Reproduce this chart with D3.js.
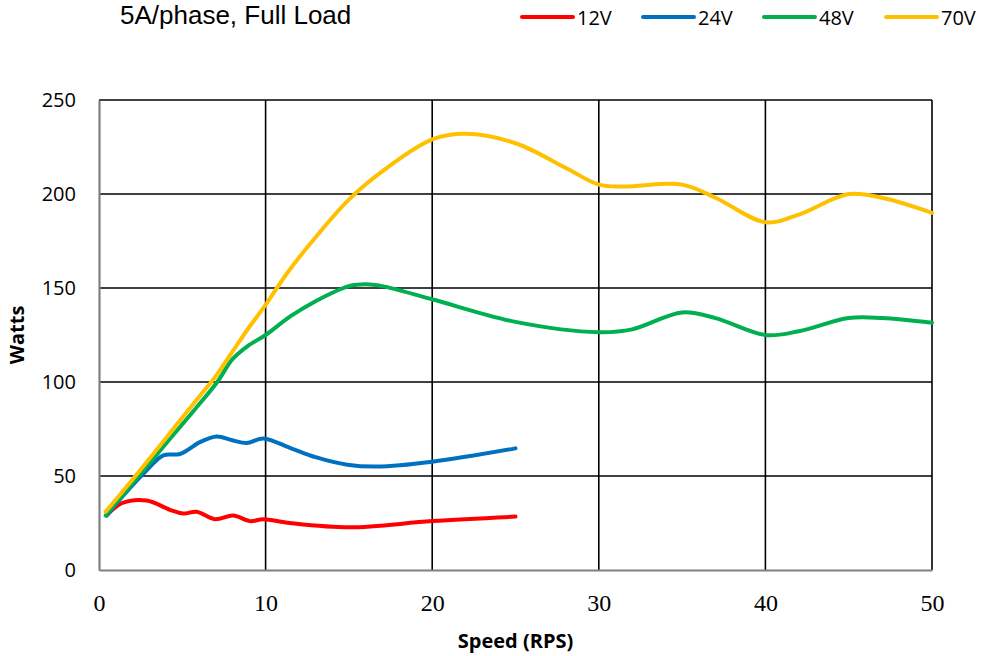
<!DOCTYPE html>
<html>
<head>
<meta charset="utf-8">
<script src="https://cdn.jsdelivr.net/npm/d3@7"></script>
<style>
  html, body { margin: 0; padding: 0; background: #fff; }
  svg { display: block; }
</style>
</head>
<body>
<svg id="chart" width="983" height="656"></svg>
<script>
// Power vs speed, 5A/phase full load, for four supply voltages
const seriesNames = ["12V", "24V", "48V", "70V"];
const seriesColors = ["#ff0000", "#0070c0", "#00b050", "#ffc000"];

const speed12 = [0.46, 1.36, 2.86, 4.26, 5.06, 5.86, 6.96, 8.06, 9.06, 9.86, 11.46, 15.06, 20, 25];
const watts12 = [29, 35.5, 37, 32, 30, 31, 27, 29, 26, 27, 25, 22.7, 26, 28.4];

const speed24 = [0.46, 1.5, 2.86, 3.86, 4.86, 6.06, 7.06, 8.0, 8.86, 9.86, 11.46, 13, 14.9, 16.7, 20, 25];
const watts24 = [29, 40, 53, 61, 61.7, 68, 71, 69, 67.5, 70, 65, 60, 56, 55, 57.6, 64.7];

const speed48 = [0.4, 2, 4, 6, 7.1, 8, 8.9, 10, 11.5, 13, 15, 16, 17, 20, 25, 30, 32, 35, 37, 40, 42, 45, 47, 50];
const watts48 = [29, 46, 67, 88, 100, 112, 119, 125, 135, 143, 151, 152, 151, 144, 132, 126.5, 128, 137, 134, 125, 127, 134, 134, 131.5];

const speed70 = [0.4, 2, 4, 6, 7, 8, 9, 10, 11.3, 13, 15, 17, 20, 22, 25, 28, 30, 31.5, 35, 37, 40, 42, 45, 47, 50];
const watts70 = [31, 48, 70, 92, 103, 116, 129, 141, 158, 177, 197, 212, 229, 232, 227, 214, 205, 204, 205, 198, 185, 189, 200, 198, 190];

const xTicks = [0, 10, 20, 30, 40, 50];
const yTicks = [0, 50, 100, 150, 200, 250];

const titleText = "5A/phase, Full Load";
const xTitle = "Speed (RPS)";
const yTitle = "Watts";

const series = [
  { name: seriesNames[0], color: seriesColors[0], xs: speed12, ys: watts12 },
  { name: seriesNames[1], color: seriesColors[1], xs: speed24, ys: watts24 },
  { name: seriesNames[2], color: seriesColors[2], xs: speed48, ys: watts48 },
  { name: seriesNames[3], color: seriesColors[3], xs: speed70, ys: watts70 }
];

const svg = d3.select("#chart");
const plot = { left: 99, right: 932, top: 100, bottom: 570 };

const x = d3.scaleLinear().domain([0, 50]).range([plot.left, plot.right]);
const y = d3.scaleLinear().domain([0, 250]).range([plot.bottom, plot.top]);

// gridlines
const grid = svg.append("g");
grid.selectAll("line.h").data(yTicks.filter(d => d > 0)).join("line")
  .attr("x1", plot.left).attr("x2", plot.right)
  .attr("y1", d => y(d)).attr("y2", d => y(d))
  .attr("stroke", "#000").attr("stroke-width", 1.6);
grid.selectAll("line.v").data(xTicks.filter(d => d > 0)).join("line")
  .attr("y1", plot.top).attr("y2", plot.bottom)
  .attr("x1", d => x(d)).attr("x2", d => x(d))
  .attr("stroke", "#000").attr("stroke-width", 1.6);

// axes
const xAxis = d3.axisBottom(x).tickValues(xTicks).tickSize(0).tickPadding(24);
const yAxis = d3.axisLeft(y).tickValues(yTicks).tickSize(0).tickPadding(23);

const gx = svg.append("g").attr("transform", `translate(0,${plot.bottom})`).call(xAxis);
gx.select(".domain").attr("stroke", "#808080").attr("stroke-width", 2.2);
gx.selectAll("text")
  .attr("font-family", "'Liberation Serif', 'DejaVu Serif', serif")
  .attr("font-size", 24).attr("fill", "#000");

const gy = svg.append("g").attr("transform", `translate(${plot.left},0)`).call(yAxis);
gy.select(".domain").attr("stroke", "#808080").attr("stroke-width", 2.2);
gy.selectAll("text")
  .attr("font-family", "'Open Sans', sans-serif")
  .attr("font-size", 20).attr("fill", "#000");

// series lines
const line = d3.line()
  .x(d => x(d[0])).y(d => y(d[1]))
  .curve(d3.curveCatmullRom.alpha(0.5));

svg.append("g").selectAll("path").data(series).join("path")
  .attr("d", s => line(s.xs.map((v, i) => [v, s.ys[i]])))
  .attr("fill", "none")
  .attr("stroke", s => s.color)
  .attr("stroke-width", 4)
  .attr("stroke-linecap", "round")
  .attr("stroke-linejoin", "round");

// titles
svg.append("text")
  .attr("x", 120).attr("y", 24)
  .attr("font-family", "'Liberation Sans', Arial, sans-serif")
  .attr("font-size", 26).attr("fill", "#000")
  .text(titleText);

svg.append("text")
  .attr("x", (plot.left + plot.right) / 2).attr("y", 648)
  .attr("text-anchor", "middle")
  .attr("font-family", "'Open Sans', sans-serif")
  .attr("font-weight", "bold").attr("font-size", 20).attr("fill", "#000")
  .text(xTitle);

svg.append("text")
  .attr("transform", `translate(24,${(plot.top + plot.bottom) / 2}) rotate(-90)`)
  .attr("text-anchor", "middle")
  .attr("font-family", "'Open Sans', sans-serif")
  .attr("font-weight", "bold").attr("font-size", 20).attr("fill", "#000")
  .text(yTitle);

// legend
const legendX = [522, 643, 764, 886];
const legend = svg.append("g");
series.forEach((s, i) => {
  const lx = legendX[i];
  legend.append("line")
    .attr("x1", lx).attr("x2", lx + 51).attr("y1", 17).attr("y2", 17)
    .attr("stroke", s.color).attr("stroke-width", 4).attr("stroke-linecap", "round");
  legend.append("text")
    .attr("x", lx + 55).attr("y", 25)
    .attr("font-family", "'Open Sans', sans-serif")
    .attr("font-size", 20).attr("fill", "#000")
    .text(s.name);
});
</script>
</body>
</html>
